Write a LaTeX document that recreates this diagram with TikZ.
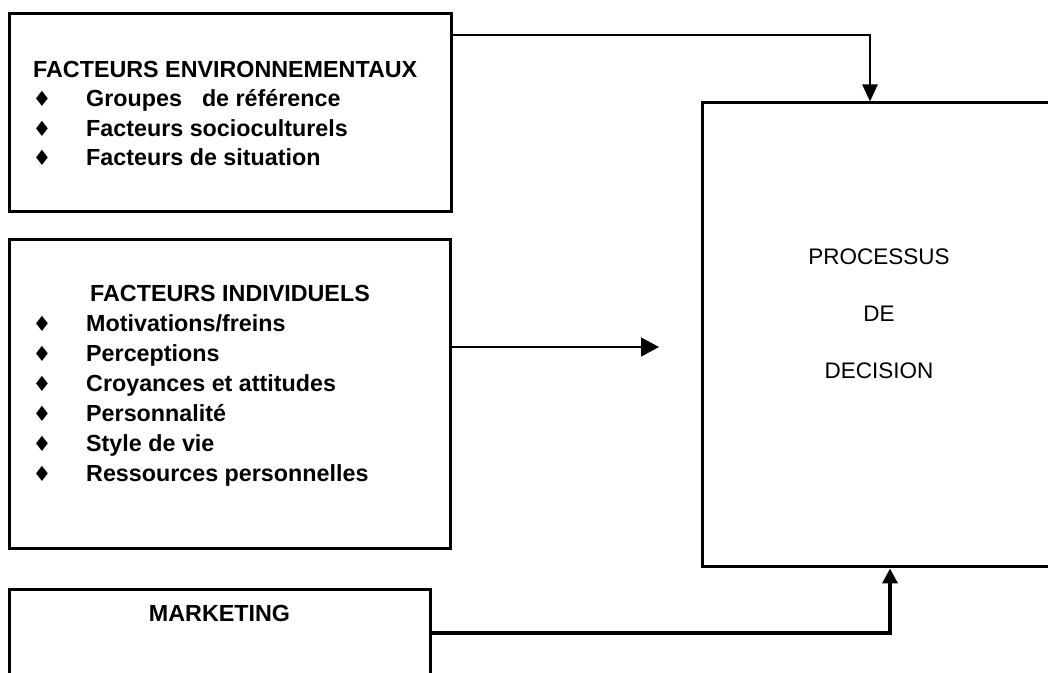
\documentclass[tikz,border=0pt]{standalone}
\usepackage{fontspec}
\setmainfont{Liberation Sans}
\newfontfamily\bulletfont{DejaVu Sans}
\usetikzlibrary{arrows.meta}

\tikzset{
  box/.style={draw,line width=3bp,inner sep=0pt},
  itemtext/.style={anchor=base west,inner sep=0pt,font=\fontsize{23.3bp}{27bp}\selectfont\bfseries},
  bullet/.style={inner sep=0pt,font=\bulletfont\fontsize{21bp}{24bp}\selectfont},
  proctext/.style={anchor=base,inner sep=0pt,font=\fontsize{22.5bp}{27bp}\selectfont},
}

\begin{document}
\begin{tikzpicture}[line join=miter]
\useasboundingbox (0bp,0bp) rectangle (1048bp,673bp);
%% boxes
\node (env) at (230bp,560bp) [box,minimum width=442bp,minimum height=198bp] {};
  \node (indiv) at (229.5bp,278.5bp) [box,minimum width=441bp,minimum height=309bp] {};
  \node (mkt) at (219.5bp,28bp) [box,minimum width=421bp,minimum height=110bp] {};
  \node (proc) at (879bp,338bp) [box,minimum width=354bp,minimum height=464bp] {};
%% environnement
\node (env-t) at (33bp,595bp) [itemtext] {FACTEURS ENVIRONNEMENTAUX};
  \node (env-b1) at (42bp,574bp) [bullet] {♦};
  \node (env-i1) at (86bp,566bp) [itemtext] {Groupes\hspace{20bp}de référence};
  \node (env-b2) at (42bp,544bp) [bullet] {♦};
  \node (env-i2) at (86bp,536bp) [itemtext] {Facteurs socioculturels};
  \node (env-b3) at (42bp,515bp) [bullet] {♦};
  \node (env-i3) at (86bp,507bp) [itemtext] {Facteurs de situation};
%% individuels
\node (indiv-t) at (90bp,371bp) [itemtext] {FACTEURS INDIVIDUELS};
  \node (indiv-b1) at (42bp,349bp) [bullet] {♦};
  \node (indiv-i1) at (86bp,341bp) [itemtext] {Motivations/freins};
  \node (indiv-b2) at (42bp,319bp) [bullet] {♦};
  \node (indiv-i2) at (86bp,311bp) [itemtext] {Perceptions};
  \node (indiv-b3) at (42bp,289bp) [bullet] {♦};
  \node (indiv-i3) at (86bp,281bp) [itemtext] {Croyances et attitudes};
  \node (indiv-b4) at (42bp,259bp) [bullet] {♦};
  \node (indiv-i4) at (86bp,251bp) [itemtext] {Personnalité};
  \node (indiv-b5) at (42bp,229bp) [bullet] {♦};
  \node (indiv-i5) at (86bp,221bp) [itemtext] {Style de vie};
  \node (indiv-b6) at (42bp,199bp) [bullet] {♦};
  \node (indiv-i6) at (86bp,191bp) [itemtext] {Ressources personnelles};
%% marketing, processus
\node (mkt-t) at (219.5bp,51bp) [itemtext,anchor=base] {MARKETING};
  \node (proc-1) at (879bp,408bp) [proctext] {PROCESSUS};
  \node (proc-2) at (879bp,351bp) [proctext] {DE};
  \node (proc-3) at (879bp,294bp) [proctext] {DECISION};
%% connectors
\coordinate (toptrack) at (870bp,638bp);
  \coordinate (midtip) at (659bp,326bp);
  \coordinate (bottrack) at (890bp,40bp);
  \draw [line width=2.5bp,-{Triangle[length=17bp,width=15bp]}] (env.east |- toptrack) -| (proc.north -| toptrack);
  \draw [line width=1.3bp,-{Triangle[length=18bp,width=19bp]}] (indiv.east |- midtip) -- (midtip);
  \draw [line width=3.5bp,-{Triangle[length=15bp,width=15bp]}] (mkt.east |- bottrack) -| (proc.south -| bottrack);
%
\end{tikzpicture}
\end{document}
